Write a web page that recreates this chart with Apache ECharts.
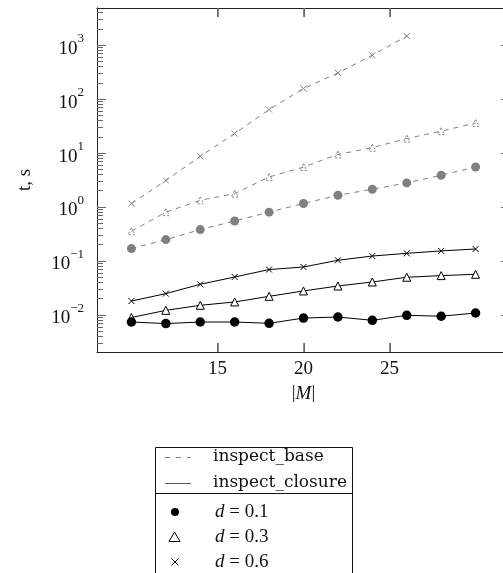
<!DOCTYPE html>
<html>
<head>
<meta charset="utf-8">
<script src="https://cdn.jsdelivr.net/npm/echarts@6/dist/echarts.min.js"></script>
<style>
html,body{margin:0;padding:0;background:#fff;}
#chart{width:503px;height:573px;}
</style>
</head>
<body>
<div id="chart"></div>
<script>
// ---- data ----
const xValues = [10, 12, 14, 16, 18, 20, 22, 24, 26, 28, 30];
const xValuesBaseD06 = [10, 12, 14, 16, 18, 20, 22, 24, 26];
const baseD01 = [0.169, 0.248, 0.38, 0.55, 0.80, 1.16, 1.65, 2.13, 2.79, 3.87, 5.5];
const baseD03 = [0.354, 0.80, 1.33, 1.77, 3.6, 5.5, 9.4, 12.6, 18.6, 25.4, 36.2];
const baseD06 = [1.16, 3.1, 8.7, 23, 64, 157, 306, 652, 1470];
const closureD01 = [0.00735, 0.00687, 0.00735, 0.00735, 0.00695, 0.0087, 0.0091, 0.0079, 0.0098, 0.0094, 0.0108];
const closureD03 = [0.0089, 0.0121, 0.0150, 0.0173, 0.022, 0.0277, 0.0342, 0.0406, 0.0497, 0.0533, 0.0564];
const closureD06 = [0.018, 0.0247, 0.0368, 0.0502, 0.069, 0.077, 0.1026, 0.123, 0.138, 0.153, 0.166];
const xTicks = [15, 20, 25];
const yMajorTicks = [0.01, 0.1, 1, 10, 100, 1000];
const legendRows = ['inspect_base', 'inspect_closure', 'd = 0.1', 'd = 0.3', 'd = 0.6'];

// ---- layout/style ----
const FONT = 'Liberation Serif';
const GRAY = '#808080';
const TICK = '#666';
const X_MIN = 8, X_MAX = 32;
const Y_MIN = Math.pow(10, -2.69), Y_MAX = Math.pow(10, 3.69);
const GRID_LEFT = 97, GRID_TOP = 8, GRID_W = 413, GRID_H = 344;

const yMinorTicks = [];
for (let e = -3; e <= 3; e++) {
  for (let k = 2; k <= 9; k++) {
    const v = k * Math.pow(10, e);
    if (v > Y_MIN && v < Y_MAX) yMinorTicks.push(v);
  }
}

function pairs(xs, ys) { return ys.map((y, i) => [xs[i], y]); }

const crossPath = 'path://M0,0L10,10M10,0L0,10';

function yAxisDef(position, tickValues, tickLen, showLabels) {
  return {
    type: 'log', position: position, min: Y_MIN, max: Y_MAX, logBase: 10,
    axisLine: { show: true, onZero: false, lineStyle: { color: '#222', width: 1 } },
    axisTick: { show: true, inside: true, length: tickLen, customValues: tickValues, lineStyle: { color: TICK, width: 1 } },
    minorTick: { show: false },
    splitLine: { show: false },
    axisLabel: showLabels ? {
      show: true, margin: 13, customValues: yMajorTicks,
      formatter: function (v) {
        const n = Math.round(Math.log10(v));
        return '{b|10}{s|' + (n < 0 ? '\u2212' + (-n) : n) + '}';
      },
      rich: {
        b: { fontFamily: FONT, fontSize: 19, color: '#111', lineHeight: 26, verticalAlign: 'bottom' },
        s: { fontFamily: FONT, fontSize: 13, color: '#111', lineHeight: 12, verticalAlign: 'top' }
      }
    } : { show: false },
    name: showLabels ? 't, s' : '',
    nameLocation: 'middle', nameGap: 62,
    nameTextStyle: { fontFamily: FONT, fontSize: 19, color: '#111' }
  };
}

function xAxisDef(position, showLabels) {
  return {
    type: 'value', position: position, min: X_MIN, max: X_MAX,
    axisLine: { show: true, onZero: false, lineStyle: { color: '#222', width: 1 } },
    axisTick: { show: true, inside: true, length: 9, customValues: xTicks, lineStyle: { color: TICK, width: 1.5 } },
    axisLabel: showLabels ? { show: true, customValues: xTicks, margin: 8, fontFamily: FONT, fontSize: 19, color: '#111' } : { show: false },
    splitLine: { show: false },
    name: showLabels ? '|{i|M}|' : '', nameLocation: 'middle', nameGap: 32,
    nameTextStyle: { fontFamily: FONT, fontSize: 19, color: '#111',
      rich: { i: { fontFamily: FONT, fontSize: 19, fontStyle: 'italic', color: '#111' } } }
  };
}

const chart = echarts.init(document.getElementById('chart'), null, { renderer: 'canvas' });

const legendWordFont = '17px "DejaVu Serif"';
const legendMathRich = { i: { fontStyle: 'italic', fontFamily: FONT, fontSize: 19 } };

const legendGraphics = [
  { type: 'rect', shape: { x: 155.5, y: 447.5, width: 197, height: 160 }, style: { fill: '#fff', stroke: '#111', lineWidth: 1 }, z: 10 },
  { type: 'line', shape: { x1: 155.5, y1: 493.5, x2: 352.5, y2: 493.5 }, style: { stroke: '#111', lineWidth: 1 }, z: 11 },
  { type: 'line', shape: { x1: 165, y1: 457.5, x2: 191, y2: 457.5 }, style: { stroke: GRAY, lineWidth: 1, lineDash: [5, 6] }, z: 11 },
  { type: 'line', shape: { x1: 165, y1: 483.5, x2: 191, y2: 483.5 }, style: { stroke: '#555', lineWidth: 1 }, z: 11 },
  { type: 'circle', shape: { cx: 175, cy: 512, r: 4 }, style: { fill: '#000' }, z: 11 },
  { type: 'polygon', shape: { points: [[169, 541.5], [180, 541.5], [174.5, 532]] }, style: { fill: 'none', stroke: '#000', lineWidth: 1 }, z: 11 },
  { type: 'line', shape: { x1: 171.5, y1: 558.5, x2: 178.5, y2: 565.5 }, style: { stroke: '#000', lineWidth: 1 }, z: 11 },
  { type: 'line', shape: { x1: 178.5, y1: 558.5, x2: 171.5, y2: 565.5 }, style: { stroke: '#000', lineWidth: 1 }, z: 11 },
  { type: 'text', x: 213, y: 457, z: 11, style: { text: legendRows[0], font: legendWordFont, fill: '#111', verticalAlign: 'middle', align: 'left' } },
  { type: 'text', x: 213, y: 483, z: 11, style: { text: legendRows[1], font: legendWordFont, fill: '#111', verticalAlign: 'middle', align: 'left' } },
  { type: 'text', x: 215, y: 512, z: 11, style: { text: '{i|d} = 0.1', font: '19px "Liberation Serif"', fill: '#111', verticalAlign: 'middle', align: 'left', rich: legendMathRich } },
  { type: 'text', x: 215, y: 537, z: 11, style: { text: '{i|d} = 0.3', font: '19px "Liberation Serif"', fill: '#111', verticalAlign: 'middle', align: 'left', rich: legendMathRich } },
  { type: 'text', x: 215, y: 562, z: 11, style: { text: '{i|d} = 0.6', font: '19px "Liberation Serif"', fill: '#111', verticalAlign: 'middle', align: 'left', rich: legendMathRich } }
];

// x-axis tick marks (top and bottom, pointing inward) as thin filled rects at the grid's x mapping
function xTickPx(v) { return Math.round(GRID_LEFT + (v - X_MIN) / (X_MAX - X_MIN) * GRID_W); }
const tickGraphics = [];
xTicks.forEach(function (v) {
  const px = xTickPx(v);
  tickGraphics.push({ type: 'rect', z: 20, shape: { x: px, y: GRID_TOP + GRID_H - 9, width: 1, height: 9 }, style: { fill: TICK } });
  tickGraphics.push({ type: 'rect', z: 20, shape: { x: px, y: GRID_TOP, width: 1, height: 9 }, style: { fill: TICK } });
});

const option = {
  animation: false,
  backgroundColor: '#fff',
  grid: { left: GRID_LEFT, top: GRID_TOP, width: GRID_W, height: GRID_H, containLabel: false, outerBoundsMode: 'none' },
  xAxis: [ xAxisDef('bottom', true), xAxisDef('top', false) ],
  yAxis: [
    yAxisDef('left', yMajorTicks, 9, true),
    yAxisDef('left', yMinorTicks, 6, false),
    yAxisDef('right', yMajorTicks, 9, false),
    yAxisDef('right', yMinorTicks, 6, false)
  ],
  series: [
    {
      name: 'base d=0.6', type: 'line', data: pairs(xValuesBaseD06, baseD06),
      symbol: crossPath, symbolSize: 6,
      lineStyle: { color: GRAY, width: 1, type: [5, 5] },
      itemStyle: { color: GRAY, borderColor: GRAY, borderWidth: 1 }
    },
    {
      name: 'base d=0.3', type: 'line', data: pairs(xValues, baseD03),
      symbol: 'triangle', symbolSize: 7,
      lineStyle: { color: GRAY, width: 1, type: [5, 5] },
      itemStyle: { color: 'rgba(0,0,0,0)', borderColor: GRAY, borderWidth: 1, borderType: [2, 2] }
    },
    {
      name: 'base d=0.1', type: 'line', data: pairs(xValues, baseD01),
      symbol: 'circle', symbolSize: 9,
      lineStyle: { color: GRAY, width: 1, type: [5, 5] },
      itemStyle: { color: GRAY, borderWidth: 0 }
    },
    {
      name: 'closure d=0.6', type: 'line', data: pairs(xValues, closureD06),
      symbol: crossPath, symbolSize: 6,
      lineStyle: { color: '#000', width: 1 },
      itemStyle: { color: '#000', borderColor: '#000', borderWidth: 1 }
    },
    {
      name: 'closure d=0.3', type: 'line', data: pairs(xValues, closureD03),
      symbol: 'triangle', symbolSize: 8,
      lineStyle: { color: '#000', width: 1 },
      itemStyle: { color: '#fff', borderColor: '#000', borderWidth: 1 }
    },
    {
      name: 'closure d=0.1', type: 'line', data: pairs(xValues, closureD01),
      symbol: 'circle', symbolSize: 9.5,
      lineStyle: { color: '#000', width: 1 },
      itemStyle: { color: '#000', borderWidth: 0 }
    }
  ],
  graphic: legendGraphics.concat(tickGraphics)
};
chart.setOption(option);
</script>
</body>
</html>
